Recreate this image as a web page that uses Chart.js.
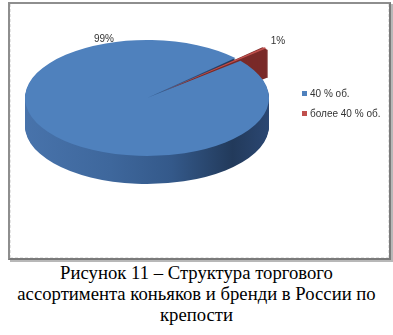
<!DOCTYPE html>
<html>
<head>
<meta charset="utf-8">
<script src="https://cdn.jsdelivr.net/npm/chart.js@4/dist/chart.umd.min.js"></script>
<style>
    html, body { margin: 0; padding: 0; background: #fff; }
    body { width: 393px; height: 335px; position: relative; overflow: hidden; }
    #frame {
        position: absolute; left: 8px; top: 2px; width: 379px; height: 254px;
        border-left: 2px solid #8e8e8e; border-top: 2px solid #8e8e8e;
        border-right: 2px solid #7a7a7a; border-bottom: 2px solid #7a7a7a;
        box-shadow: 2px 2px 0 #b8b8b8;
    }
    #frame .inner { position: absolute; left: 0; top: 0; right: 0; bottom: 0; border: 1px dashed #e4e4e4; border-top: none; }
    #chart { position: absolute; left: 0; top: 0; }
    #legend { position: absolute; left: 302px; top: 86px; font: 10px "Liberation Sans", Arial, sans-serif; color: #333; }
    #legend div { height: 20px; line-height: 15px; white-space: nowrap; }
    #legend span.box { display: inline-block; width: 5px; height: 5px; margin-right: 3px; vertical-align: 1px; }
    #caption {
        position: absolute; left: 0; top: 262px; width: 393px; text-align: center;
        font: 18.7px "Liberation Serif", "Times New Roman", serif; line-height: 21px; color: #000;
    }
</style>
</head>
<body>
<div id="frame"><div class="inner"></div></div>
<canvas id="chart" width="393" height="262"></canvas>
<div id="legend"></div>
<div id="caption">Рисунок 11 – Структура торгового<br>ассортимента коньяков и бренди в России по<br>крепости</div>
<script>
// Данные диаграммы
const labels = ['40 % об.', 'более 40 % об.'];
const values = [99, 1];
const valueLabels = ['99%', '1%'];

// Цвета: верх секторов и их боковины
const topColors = ['#4f81bd', '#c0504d'];
const sideColors = [null, '#7a2a28'];

const TILT = 0.475;   // сжатие эллипса по вертикали
const DEPTH = 28;     // толщина "пирога"

// Плагин псевдо-3D: боковины + сжатие по вертикали
const pie3d = {
    id: 'pie3d',
    beforeDatasetsDraw(chart) {
        const ctx = chart.ctx;
        const arcs = chart.getDatasetMeta(0).data;
        const cy0 = arcs[0].y;

        arcs.forEach((arc, i) => {
            const p = arc.getProps(['x', 'y', 'startAngle', 'endAngle', 'outerRadius', 'circumference'], true);
            const off = (arc.options.offset || 0) / 4;
            const mid = (p.startAngle + p.endAngle) / 2;
            const fix = 1 - Math.sin(Math.min(Math.PI, p.circumference));
            const r = p.outerRadius + off * fix;
            const cx = p.x + Math.cos(mid) * off;
            const cy = cy0 + Math.sin(mid) * off * TILT;

            let fill = sideColors[i];
            if (!fill) {
                const g = ctx.createLinearGradient(cx - r, 0, cx + r, 0);
                g.addColorStop(0, '#4873ab');
                g.addColorStop(0.35, '#3e679c');
                g.addColorStop(0.6, '#34598a');
                g.addColorStop(0.85, '#223a5b');
                g.addColorStop(1, '#2b4772');
                fill = g;
            }
            ctx.save();
            ctx.fillStyle = fill;
            for (let d = DEPTH; d >= 1; d--) {
                ctx.beginPath();
                ctx.moveTo(cx, cy + d);
                ctx.ellipse(cx, cy + d, r, r * TILT, 0, p.startAngle, p.endAngle);
                ctx.closePath();
                ctx.fill();
            }
            ctx.restore();
        });

        ctx.save();
        ctx.translate(0, cy0);
        ctx.scale(1, TILT);
        ctx.translate(0, -cy0);
    },
    afterDatasetsDraw(chart) {
        chart.ctx.restore();
    },
    afterDraw(chart, args, opts) {
        const ctx = chart.ctx;
        ctx.save();
        ctx.font = '10px "Liberation Sans", Arial, sans-serif';
        ctx.fillStyle = '#333';
        ctx.textAlign = 'center';
        ctx.textBaseline = 'middle';
        valueLabels.forEach((t, i) => ctx.fillText(t, opts.pos[i][0], opts.pos[i][1]));
        ctx.restore();
    }
};

const chart = new Chart(document.getElementById('chart'), {
    type: 'pie',
    data: {
        labels: labels,
        datasets: [{
            data: values,
            backgroundColor: topColors,
            borderWidth: 0,
            offset: [0, 76],
            radius: 122,
            clip: false
        }]
    },
    options: {
        responsive: false,
        animation: false,
        rotation: 50,
        events: [],
        layout: { padding: { left: 25, right: 124, top: 0, bottom: 66 } },
        plugins: {
            legend: { display: false },
            tooltip: { enabled: false },
            pie3d: { pos: [[104, 39], [278, 41]] }
        }
    },
    plugins: [pie3d]
});

// Легенда
const legend = document.getElementById('legend');
labels.forEach((l, i) => {
    const row = document.createElement('div');
    row.innerHTML = '<span class="box" style="background:' + topColors[i] + '"></span>' + l;
    legend.appendChild(row);
});
</script>
</body>
</html>
